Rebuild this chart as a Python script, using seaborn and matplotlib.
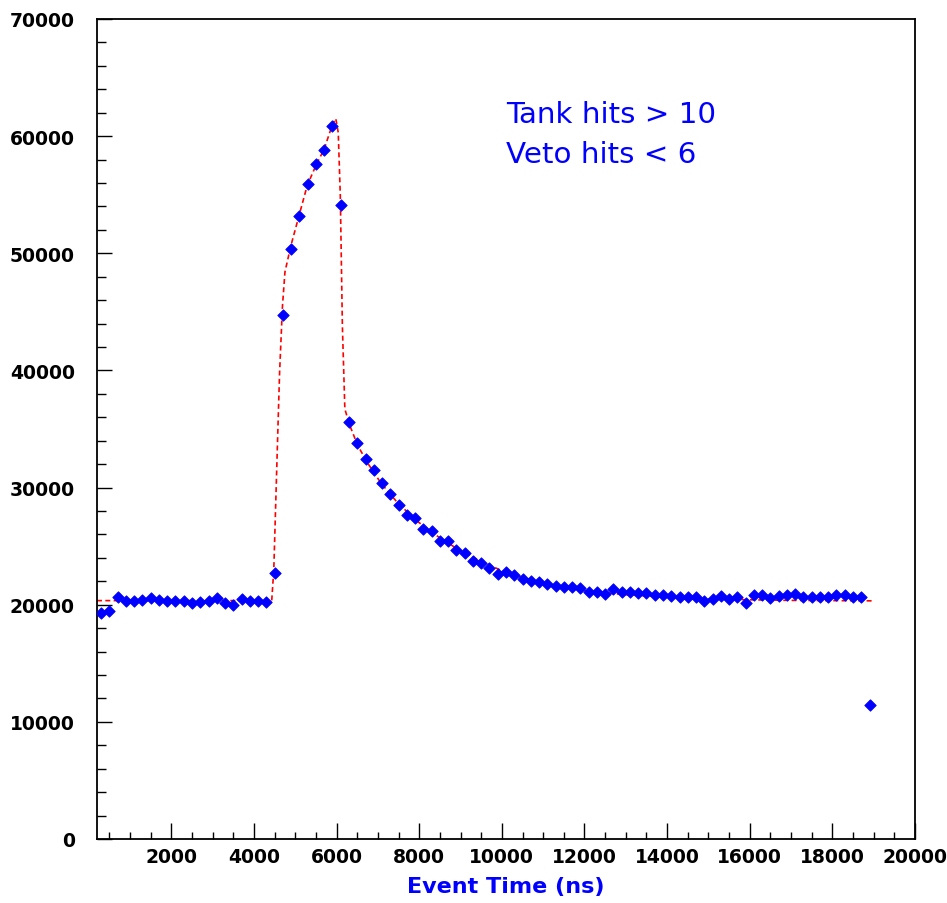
import numpy as np
import pandas as pd
import matplotlib.pyplot as plt
from matplotlib.ticker import MultipleLocator
import seaborn as sns

sns.set_theme(style="white")
plt.rcParams['font.family'] = ['DejaVu Sans']
plt.rcParams['xtick.direction'] = 'in'
plt.rcParams['ytick.direction'] = 'in'

# histogram: 200 ns bins, centres from 300 to 18900 ns
time_ns = np.arange(300, 19000, 200)
counts = [
    19250, 19450, 20650, 20300, 20300, 20400, 20550, 20400, 20300, 20300,
    20350, 20150, 20200, 20300, 20550, 20150, 19980, 20450, 20350, 20350,
    20260,
    22700, 44700, 50400, 53200, 55900, 57600, 58800, 60900, 54100, 35600,
    33800, 32400, 31500, 30400, 29450, 28500, 27700, 27400, 26500, 26300,
    25400, 25400, 24700, 24400, 23700, 23600, 23100, 22600, 22800, 22500,
    22200, 22050, 21900, 21750, 21600, 21550, 21550, 21450, 21100, 21100,
    20900, 21300, 21050, 21100, 21000, 21000, 20850, 20850, 20750, 20700,
    20650, 20650, 20350, 20450, 20750, 20450, 20700, 20150, 20800, 20800,
    20550, 20750, 20800, 20950, 20650, 20650, 20650, 20650, 20800, 20800,
    20700, 20650, 11400,
]

# fitted curve (red dashed), vertices
fit_t = [200, 4430, 4480, 4570, 4620, 4690, 4750, 4890, 5090, 5290, 5500,
         5700, 5900, 5980, 6040, 6090, 6140, 6200, 6320, 6510, 6750, 7070,
         7500, 8000, 8500, 9000, 9500, 10000, 10500, 11000, 11500, 12000,
         13000, 14000, 15000, 16000, 17000, 18000, 19000]
fit_v = [20350, 20350, 23000, 33900, 39800, 45500, 48400, 50600, 53200,
         55800, 57500, 58900, 61000, 61500, 60300, 54900, 43800, 36700,
         35300, 33600, 32100, 30400, 28600, 27000, 25700, 24600, 23700,
         22900, 22300, 21850, 21500, 21200, 20850, 20650, 20500, 20420,
         20370, 20350, 20330]

hist = pd.DataFrame({"t": time_ns, "n": counts})
fit = pd.DataFrame({"t": fit_t, "n": fit_v})

fig = plt.figure(figsize=(9.47, 9.04), dpi=100)
ax = fig.add_axes([0.1024, 0.0708, 0.8638, 0.9071])

sns.lineplot(data=fit, x="t", y="n", ax=ax, color="#ff0000", lw=1.2,
             linestyle=(0, (3, 2)), sort=False, estimator=None, zorder=2)
sns.scatterplot(data=hist, x="t", y="n", ax=ax, marker="D", s=34,
                color="#0000ff", edgecolor="#0000ff", linewidth=0.6, zorder=3)

ax.set_xlim(200, 20000)
ax.set_ylim(0, 70000)
ax.xaxis.set_major_locator(MultipleLocator(2000))
ax.xaxis.set_minor_locator(MultipleLocator(500))
ax.yaxis.set_major_locator(MultipleLocator(10000))
ax.yaxis.set_minor_locator(MultipleLocator(2000))

ax.tick_params(which="both", direction="in", bottom=True, left=True,
               top=False, right=False, colors="black")
ax.tick_params(axis="x", which="major", length=11.5, width=1, pad=6,
               labelsize=13.5)
ax.tick_params(axis="x", which="minor", length=5, width=1)
ax.tick_params(axis="y", which="major", length=11, width=1, pad=16,
               labelsize=13.5)
ax.tick_params(axis="y", which="minor", length=6.5, width=1)
for lab in ax.get_xticklabels() + ax.get_yticklabels():
    lab.set_fontweight("bold")

for sp in ax.spines.values():
    sp.set_color("black")
    sp.set_linewidth(1.3)

ax.set_xlabel("Event Time (ns)", color="#0000ff", fontsize=16,
              fontweight="bold", labelpad=7)
ax.set_ylabel("")

fig.text(0.534, 0.8643, "Tank hits > 10", color="#0000ff", fontsize=21.2,
         va="baseline", ha="left")
fig.text(0.534, 0.820, "Veto hits < 6", color="#0000ff", fontsize=21.2,
         va="baseline", ha="left")

fig.savefig("out.png", dpi=100, facecolor="white")
